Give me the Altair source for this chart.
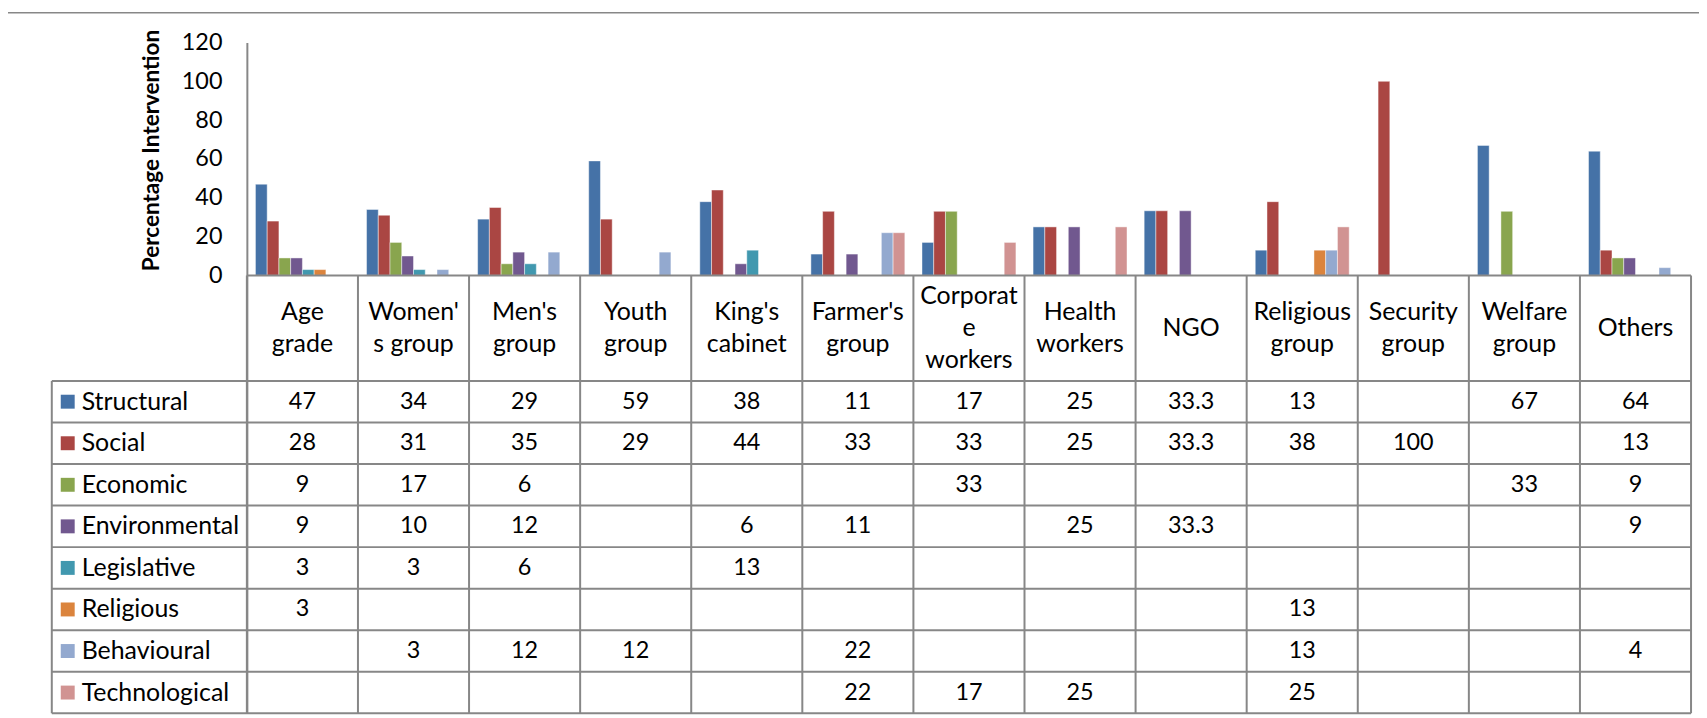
import altair as alt
import pandas as pd

categories = ["Age grade", "Women's group", "Men's group", "Youth group", "King's cabinet",
              "Farmer's group", "Corporate workers", "Health workers", "NGO", "Religious group",
              "Security group", "Welfare group", "Others"]
header_labels = ["Age\ngrade", "Women'\ns group", "Men's\ngroup", "Youth\ngroup", "King's\ncabinet",
                 "Farmer's\ngroup", "Corporat\ne\nworkers", "Health\nworkers", "NGO", "Religious\ngroup",
                 "Security\ngroup", "Welfare\ngroup", "Others"]
series = ["Structural", "Social", "Economic", "Environmental", "Legislative",
          "Religious", "Behavioural", "Technological"]
colors = ["#4572A7", "#AA4643", "#89A54E", "#71588F", "#4198AF", "#DB843D", "#93A9CF", "#D19392"]

structural = [47, 34, 29, 59, 38, 11, 17, 25, 33.3, 13, None, 67, 64]
social = [28, 31, 35, 29, 44, 33, 33, 25, 33.3, 38, 100, None, 13]
economic = [9, 17, 6, None, None, None, 33, None, None, None, None, 33, 9]
environmental = [9, 10, 12, None, 6, 11, None, 25, 33.3, None, None, None, 9]
legislative = [3, 3, 6, None, 13, None, None, None, None, None, None, None, None]
religious = [3, None, None, None, None, None, None, None, None, 13, None, None, None]
behavioural = [None, 3, 12, 12, None, 22, None, None, None, 13, None, None, 4]
technological = [None, None, None, None, None, 22, 17, 25, None, 25, None, None, None]
y_ticks = [0, 20, 40, 60, 80, 100, 120]
y_title = "Percentage Intervention"

series_values = [structural, social, economic, environmental, legislative,
                 religious, behavioural, technological]

rows = []
for s, vals in zip(series, series_values):
    for c, v in zip(categories, vals):
        if v is not None:
            rows.append({"category": c, "series": s, "value": v, "label": f"{v:g}"})
cell_df = pd.DataFrame(rows)
header_df = pd.DataFrame({"category": categories, "label": header_labels,
                          "nlines": [lab.count("\n") + 1 for lab in header_labels]})
legend_df = pd.DataFrame({"series": series})

# layout (pixels)
W, H = 1647, 674
AXIS_X = 196          # y-axis position inside plot
BAR_H = 234           # height of bar area
HEADER_BOTTOM = 340   # bottom of category header row
LINE_H = 32
ymax = 120
ymin = ymax - ymax * H / BAR_H
step_x = (W - AXIS_X) / len(categories)
po_x = AXIS_X / (2 * step_x)

GRAY = "#878787"
FONT = "Lato"
TXT = 25
NUM = 23.5

xscale = alt.Scale(domain=categories, paddingInner=0, paddingOuter=po_x, align=1)
yscale_t = alt.Scale(domain=series, range=[HEADER_BOTTOM, H], paddingInner=0, paddingOuter=0)
cscale = alt.Scale(domain=series, range=colors)

frame = alt.Chart(pd.DataFrame({"a": [0]})).mark_rect(
    fillOpacity=0, stroke=GRAY, strokeWidth=1.5
).encode(x=alt.value(-45), x2=alt.value(W + 200), y=alt.value(-30), y2=alt.value(H + 200))

bars = alt.Chart(cell_df).mark_bar(stroke="white", strokeOpacity=0.45, strokeWidth=1).encode(
    x=alt.X("category:N", scale=xscale, axis=None),
    xOffset=alt.XOffset("series:N", scale=alt.Scale(domain=series, paddingInner=0, paddingOuter=0.73)),
    y=alt.Y("value:Q", scale=alt.Scale(domain=[ymin, ymax], nice=False, zero=False),
            axis=alt.Axis(values=y_ticks, offset=-AXIS_X, domain=True, domainColor=GRAY,
                          domainWidth=2, ticks=False, grid=False, labelPadding=25,
                          labelFont=FONT, labelFontSize=NUM, labelColor="black",
                          labelFlush=False, labelOverlap=False,
                          title=y_title, titleFont=FONT, titleFontSize=22.6,
                          titleFontWeight="bold", titleColor="black",
                          titleX=-96, titleY=108, titleBaseline="middle", titleAngle=270)),
    color=alt.Color("series:N", scale=cscale, legend=None),
)
zero_rule = alt.Chart(pd.DataFrame({"a": [0]})).mark_rule(color=GRAY, strokeWidth=2).encode(
    x=alt.value(AXIS_X), x2=alt.value(W), y=alt.Y(datum=0)
)
bar_group = alt.layer(bars, zero_rule)

row_lines = alt.Chart(legend_df).mark_rule(color=GRAY, strokeWidth=2).encode(
    x=alt.value(0), x2=alt.value(W),
    y=alt.Y("series:N", scale=yscale_t, axis=None, bandPosition=0),
)
bottom_line = alt.Chart(legend_df).transform_filter(
    alt.datum.series == series[-1]
).mark_rule(color=GRAY, strokeWidth=2).encode(
    x=alt.value(0), x2=alt.value(W),
    y=alt.Y("series:N", scale=yscale_t, axis=None, bandPosition=1),
)
left_line = alt.Chart(pd.DataFrame({"a": [0]})).mark_rule(color=GRAY, strokeWidth=2).encode(
    x=alt.value(0), y=alt.value(HEADER_BOTTOM), y2=alt.value(H)
)
vlines = alt.Chart(header_df).mark_rule(color=GRAY, strokeWidth=2).encode(
    x=alt.X("category:N", scale=xscale, axis=None, bandPosition=0),
    y=alt.value(BAR_H), y2=alt.value(H),
)
right_line = alt.Chart(header_df).transform_filter(
    alt.datum.category == categories[-1]
).mark_rule(color=GRAY, strokeWidth=2).encode(
    x=alt.X("category:N", scale=xscale, axis=None, bandPosition=1),
    y=alt.value(BAR_H), y2=alt.value(H),
)

header_layers = []
for n in (1, 2, 3):
    header_layers.append(
        alt.Chart(header_df).transform_filter(alt.datum.nlines == n).mark_text(
            font=FONT, fontSize=TXT, lineBreak="\n", lineHeight=LINE_H, baseline="middle",
            color="black", dy=-(n - 1) * LINE_H / 2
        ).encode(
            x=alt.X("category:N", scale=xscale, axis=None),
            y=alt.value((BAR_H + HEADER_BOTTOM) / 2),
            text="label:N",
        )
    )
cell_text = alt.Chart(cell_df).mark_text(
    font=FONT, fontSize=NUM, baseline="middle", color="black"
).encode(
    x=alt.X("category:N", scale=xscale, axis=None),
    y=alt.Y("series:N", scale=yscale_t, axis=None),
    text="label:N",
)
legend_sq = alt.Chart(legend_df).mark_square(size=196, opacity=1, filled=True).encode(
    x=alt.value(16),
    y=alt.Y("series:N", scale=yscale_t, axis=None),
    color=alt.Color("series:N", scale=cscale, legend=None),
)
legend_text = alt.Chart(legend_df).mark_text(
    font=FONT, fontSize=TXT, align="left", baseline="middle", color="black"
).encode(
    x=alt.value(30),
    y=alt.Y("series:N", scale=yscale_t, axis=None),
    text="series:N",
)
table_group = alt.layer(row_lines, bottom_line, left_line, vlines, right_line,
                        *header_layers, cell_text, legend_sq, legend_text)

chart = alt.layer(frame, bar_group, table_group).resolve_scale(y="independent").properties(
    width=W, height=H,
    padding={"left": 44, "top": 33, "right": 8, "bottom": 3},
    autosize=alt.AutoSizeParams(type="none"),
    background="white",
).configure_view(stroke=None)

chart.save("out.html", embed_options={"renderer": "svg", "actions": False})
